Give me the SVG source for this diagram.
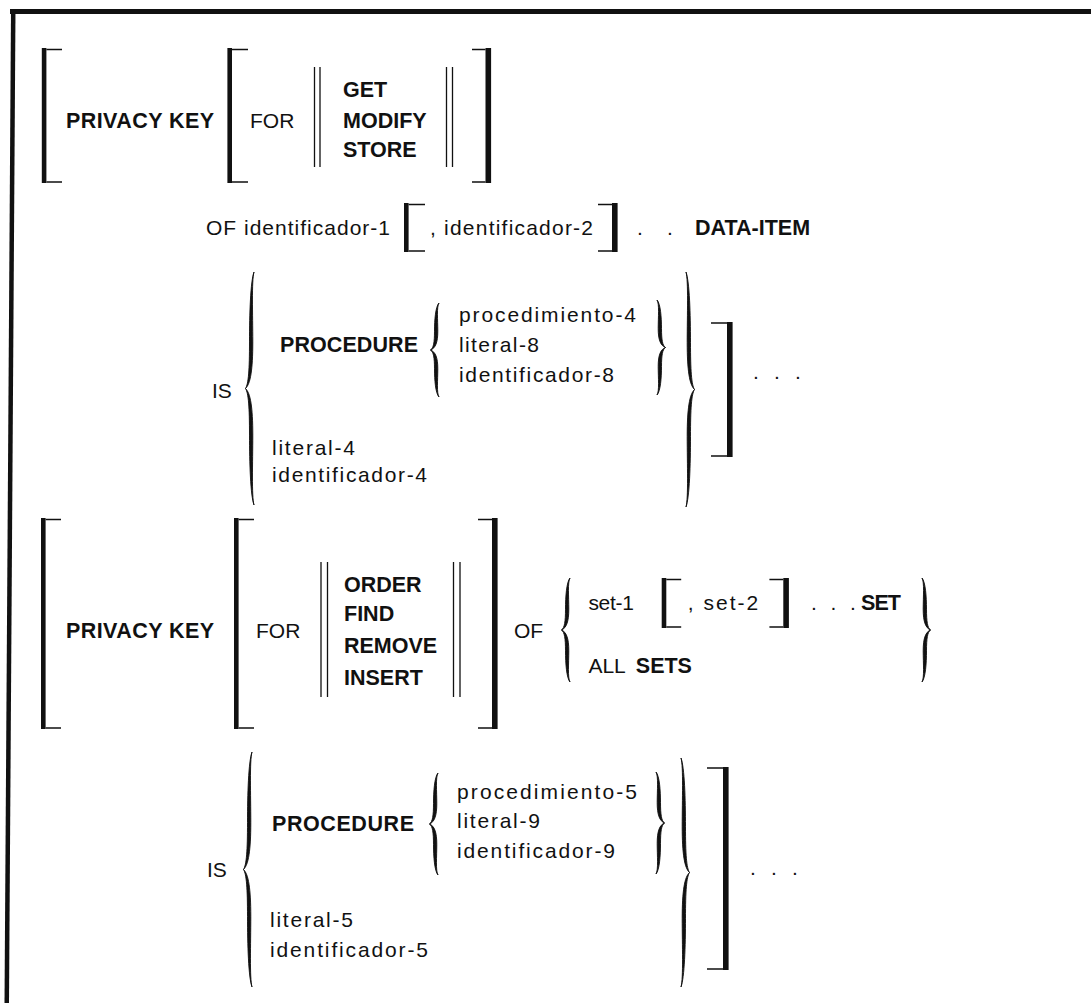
<svg xmlns="http://www.w3.org/2000/svg" xmlns:xlink="http://www.w3.org/1999/xlink" width="1091" height="1003" viewBox="0 0 1091 1003">
<style>
text{font-family:"Liberation Sans",Arial,Helvetica,sans-serif;fill:#111;}
.r{font-size:21px;}
.b{font-size:21.5px;font-weight:bold;}
.bar{fill:#111;}
.serif{stroke:#111;stroke-width:1.4;fill:none;}
.dbl{stroke:#111;stroke-width:1.3;fill:none;}
.brace{fill:#111;stroke:#111;stroke-width:0.9;}
</style>
<defs>
<path id="braceL" vector-effect="non-scaling-stroke" d="M4,0 C0.5,4 -0.5,18 -0.5,30 C-0.5,42 -1.5,48 -4.5,50 C-1.5,52 -0.5,58 -0.5,70 C-0.5,82 0.5,96 4,100 C1.5,96 2.8,82 2.8,70 C2.8,58 0.5,52 -4.5,50 C0.5,48 2.8,42 2.8,30 C2.8,18 1.5,4 4,0 Z"/>
</defs>
<rect width="1091" height="1003" fill="#fff"/>

<g id="frame">
<rect x="10" y="9" width="1081" height="5" fill="#111"/>
<polygon points="11,9 15.5,9 9,1003 4.5,1003" fill="#111"/>
</g>

<g id="row1">
<rect class="bar" x="41.8" y="48" width="4.6" height="135"/>
<path class="serif" d="M46.4,49.5 H62 M46.4,182 H62"/>
<text class="b" x="66" y="128" textLength="148">PRIVACY KEY</text>
<rect class="bar" x="227.4" y="48" width="4.6" height="135"/>
<path class="serif" d="M232,49.5 H248 M232,182 H248"/>
<text class="r" x="250" y="128">FOR</text>
<path class="dbl" d="M314.5,67 V167 M320,67 V167 M446.5,67 V167 M452.5,67 V167"/>
<text class="b" x="343" y="97">GET</text>
<text class="b" x="343" y="128">MODIFY</text>
<text class="b" x="343" y="157">STORE</text>
<rect class="bar" x="485.5" y="48" width="5.6" height="135"/>
<path class="serif" d="M472,49.5 H485.5 M472,182 H485.5"/>
</g>

<g id="row2">
<text class="r" x="206" y="235" textLength="184">OF identificador-1</text>
<rect class="bar" x="404" y="203" width="4.6" height="49"/>
<path class="serif" d="M408.6,204.5 H425 M408.6,251 H425"/>
<text class="r" x="430" y="235" textLength="163">, identificador-2</text>
<rect class="bar" x="612" y="203" width="5.6" height="49"/>
<path class="serif" d="M598,204.5 H612 M598,251 H612"/>
<text class="r" x="637 667" y="235">..</text>
<text class="b" x="695" y="235">DATA-ITEM</text>
</g>

<g id="block1">
<text class="r" x="212" y="398">IS</text>
<use xlink:href="#braceL" class="brace" transform="translate(250,272) scale(1,2.33)"/>
<text class="b" x="280" y="352" textLength="138">PROCEDURE</text>
<use xlink:href="#braceL" class="brace" transform="translate(435,303) scale(1,0.94)"/>
<text class="r" x="459" y="322" textLength="177">procedimiento-4</text>
<text class="r" x="459" y="352" textLength="80">literal-8</text>
<text class="r" x="459" y="382" textLength="155">identificador-8</text>
<use xlink:href="#braceL" class="brace" transform="translate(661,300) scale(-1,0.95)"/>
<text class="r" x="272" y="455" textLength="83">literal-4</text>
<text class="r" x="272" y="482" textLength="155">identificador-4</text>
<use xlink:href="#braceL" class="brace" transform="translate(690,272) scale(-1,2.35)"/>
<rect class="bar" x="727" y="322" width="5.6" height="135"/>
<path class="serif" d="M711,323 H727 M711,456 H727"/>
<text class="r" x="753 774 795" y="379">...</text>
</g>

<g id="row4">
<rect class="bar" x="41" y="518" width="4.6" height="211"/>
<path class="serif" d="M45.6,519.5 H61 M45.6,728 H61"/>
<text class="b" x="66" y="638" textLength="148">PRIVACY KEY</text>
<rect class="bar" x="234" y="518" width="4.6" height="211"/>
<path class="serif" d="M238.6,519.5 H254 M238.6,728 H254"/>
<text class="r" x="256" y="638">FOR</text>
<path class="dbl" d="M321,562 V697 M327.5,562 V697 M453.5,562 V697 M460,562 V697"/>
<text class="b" x="344" y="592">ORDER</text>
<text class="b" x="344" y="621">FIND</text>
<text class="b" x="344" y="653">REMOVE</text>
<text class="b" x="344" y="685">INSERT</text>
<rect class="bar" x="492" y="518" width="5.6" height="211"/>
<path class="serif" d="M478,519.5 H492 M478,728 H492"/>
<text class="r" x="514" y="638">OF</text>
<use xlink:href="#braceL" class="brace" transform="translate(566,578) scale(1,1.04)"/>
<text class="r" x="588.4" y="610" textLength="45.5">set-1</text>
<rect class="bar" x="661.7" y="578" width="4.6" height="50"/>
<path class="serif" d="M666.3,579.5 H681.2 M666.3,627 H681.2"/>
<text class="r" x="687.7" y="610" textLength="70.5">, set-2</text>
<rect class="bar" x="783.3" y="578" width="5.6" height="50"/>
<path class="serif" d="M769.4,579.5 H783.3 M769.4,627 H783.3"/>
<text class="r" x="811 830.5 850" y="610">...</text>
<text class="b" x="861" y="610" textLength="40">SET</text>
<text class="r" x="588.4" y="673">ALL</text>
<text class="b" x="635.8" y="673">SETS</text>
<use xlink:href="#braceL" class="brace" transform="translate(926,578) scale(-1,1.04)"/>
</g>

<g id="block2">
<text class="r" x="207" y="877">IS</text>
<use xlink:href="#braceL" class="brace" transform="translate(248,752) scale(1,2.35)"/>
<text class="b" x="272" y="831" textLength="142">PROCEDURE</text>
<use xlink:href="#braceL" class="brace" transform="translate(434,773) scale(1,1.02)"/>
<text class="r" x="457" y="799" textLength="180">procedimiento-5</text>
<text class="r" x="457" y="828" textLength="83">literal-9</text>
<text class="r" x="457" y="858" textLength="158">identificador-9</text>
<use xlink:href="#braceL" class="brace" transform="translate(660,772) scale(-1,1.02)"/>
<text class="r" x="270" y="927" textLength="83">literal-5</text>
<text class="r" x="270" y="957" textLength="158">identificador-5</text>
<use xlink:href="#braceL" class="brace" transform="translate(685,758) scale(-1,2.29)"/>
<rect class="bar" x="723" y="767" width="5.6" height="203"/>
<path class="serif" d="M707,768 H723 M707,969 H723"/>
<text class="r" x="750 771 792" y="875">...</text>
</g>
</svg>
